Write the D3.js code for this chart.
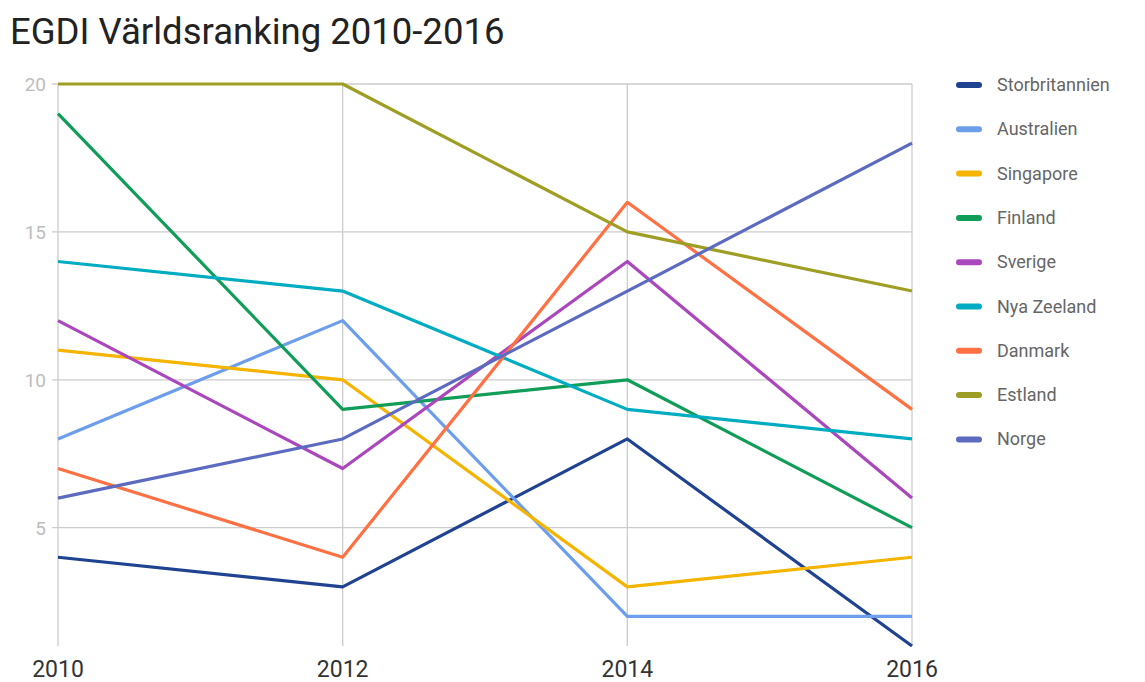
<!DOCTYPE html>
<html>
<head>
<meta charset="utf-8">
<script src="https://cdn.jsdelivr.net/npm/d3@7"></script>
<style>
  body { margin: 0; background: #fff; font-family: Roboto, sans-serif; }
</style>
</head>
<body>
<svg width="1145" height="682"></svg>
<script>
var years = [2010, 2012, 2014, 2016];
var countries = ["Storbritannien", "Australien", "Singapore", "Finland", "Sverige",
                 "Nya Zeeland", "Danmark", "Estland", "Norge"];
var colors = ["#1f4390", "#6d9eeb", "#f4b400", "#0f9d58", "#ab47bc",
              "#00acc1", "#ff7043", "#9e9d24", "#5c6bc0"];

var storbritannien = [4, 3, 8, 1];
var australien = [8, 12, 2, 2];
var singapore = [11, 10, 3, 4];
var finland = [19, 9, 10, 5];
var sverige = [12, 7, 14, 6];
var nyaZeeland = [14, 13, 9, 8];
var danmark = [7, 4, 16, 9];
var estland = [20, 20, 15, 13];
var norge = [6, 8, 13, 18];
var yTicks = [5, 10, 15, 20];

var series = [storbritannien, australien, singapore, finland, sverige,
              nyaZeeland, danmark, estland, norge];

var svg = d3.select("svg");

var x = d3.scaleLinear().domain([2010, 2016]).range([58, 912]);
var y = d3.scaleLinear().domain([1, 20]).range([646, 84]);

// title
svg.append("text")
    .attr("x", 10).attr("y", 44)
    .style("font-size", "36.5px")
    .style("fill", "#222")
    .text("EGDI Världsranking 2010-2016");

// horizontal grid
svg.append("g")
    .selectAll("line").data(yTicks).enter().append("line")
    .attr("x1", 52).attr("x2", 912)
    .attr("y1", function(d) { return y(d); })
    .attr("y2", function(d) { return y(d); })
    .attr("stroke", "#cccccc").attr("stroke-width", 1.3);

// vertical grid
svg.append("g")
    .selectAll("line").data(years).enter().append("line")
    .attr("x1", function(d) { return x(d); })
    .attr("x2", function(d) { return x(d); })
    .attr("y1", y(20)).attr("y2", y(1))
    .attr("stroke", "#cccccc").attr("stroke-width", 1.3);

// y labels
svg.append("g")
    .selectAll("text").data(yTicks).enter().append("text")
    .attr("x", 46)
    .attr("y", function(d) { return y(d) + 7; })
    .attr("text-anchor", "end")
    .style("font-size", "19px")
    .style("fill", "#bdbdbd")
    .text(function(d) { return d; });

// x labels
svg.append("g")
    .selectAll("text").data(years).enter().append("text")
    .attr("x", function(d) { return x(d); })
    .attr("y", 677)
    .attr("text-anchor", "middle")
    .style("font-size", "23px")
    .style("fill", "#333")
    .text(function(d) { return d; });

var line = d3.line()
    .x(function(d, i) { return x(years[i]); })
    .y(function(d) { return y(d); });

svg.append("g")
    .selectAll("path").data(series).enter().append("path")
    .attr("d", line)
    .attr("fill", "none")
    .attr("stroke", function(d, i) { return colors[i]; })
    .attr("stroke-width", 3.2)
    .attr("stroke-linejoin", "round");

// legend
var legend = svg.append("g")
    .selectAll("g").data(countries).enter().append("g")
    .attr("transform", function(d, i) { return "translate(957," + (85 + i * 44.3) + ")"; });

legend.append("line")
    .attr("x1", 2).attr("x2", 22)
    .attr("y1", 0).attr("y2", 0)
    .attr("stroke", function(d, i) { return colors[i]; })
    .attr("stroke-width", 6)
    .attr("stroke-linecap", "round");

legend.append("text")
    .attr("x", 40).attr("y", 6)
    .style("font-size", "18px")
    .style("fill", "#666")
    .text(function(d) { return d; });
</script>
</body>
</html>
